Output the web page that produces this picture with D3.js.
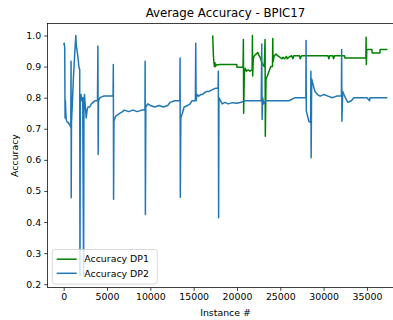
<!DOCTYPE html>
<html><head><meta charset="utf-8">
<script src="https://cdn.jsdelivr.net/npm/d3@7"></script>
<style>body{margin:0;background:#fff;} svg{display:block;} text{font-family:"DejaVu Sans",sans-serif;fill:#000;}</style>
</head><body>
<svg id="chart" width="393" height="320"></svg>
<script>
// ---- data ----
const title = "Average Accuracy - BPIC17";
const xLabel = "Instance #";
const yLabel = "Accuracy";
const seriesNames = ["Accuracy DP1", "Accuracy DP2"];
const seriesColors = ["#008000", "#1f77b4"];
const xTicks = [0, 5000, 10000, 15000, 20000, 25000, 30000, 35000];
const yTicks = [0.2, 0.3, 0.4, 0.5, 0.6, 0.7, 0.8, 0.9, 1.0];

// DP1 (green)
const dp1X = [17200,17240,17280,17330,17400,17460,17520,17600,17680,18000,18600,19200,19970,20000,20400,20700,
  20740,20770,20850,20950,21100,21300,21500,21750,21780,21810,21880,22000,22200,22400,22550,22670,22850,23000,23150,
  23240,23270,23350,23500,23700,23900,24100,24130,24160,24300,24500,24700,24970,25200,25300,25500,25700,25800,26000,
  26300,26450,26550,27200,27300,27450,28000,29000,30500,30600,30700,31050,31150,31250,32400,32450,33500,34880,
  34900,34930,34980,35050,35560,35600,36500,36520,37350];
const dp1Y = [1.0,0.965,0.935,0.915,0.9,0.912,0.9,0.907,0.905,0.907,0.907,0.907,0.907,0.898,0.898,0.898,
  0.987,0.75,0.88,0.895,0.885,0.89,0.885,0.89,1.0,0.87,0.925,0.935,0.94,0.945,0.935,0.93,0.915,0.905,0.9,
  0.987,0.676,0.86,0.87,0.885,0.9,0.9,0.99,0.915,0.935,0.94,0.935,0.93,0.925,0.93,0.925,0.933,0.925,0.93,
  0.935,0.925,0.935,0.935,0.925,0.935,0.935,0.935,0.935,0.925,0.935,0.935,0.925,0.935,0.935,0.928,0.928,0.928,
  0.994,0.907,0.955,0.955,0.955,0.944,0.944,0.955,0.955];

// DP2 (blue)
const dp2X = [0,60,120,160,200,250,300,360,450,545,640,740,820,850,870,900,1000,1100,1250,1400,1450,1550,1650,1750,1850,
  1880,1920,2000,2100,2200,2300,2340,2400,2500,2600,2700,2800,3000,3200,3400,3600,3900,3950,3980,4020,4200,4600,5000,5400,5700,
  5730,5760,5800,6000,6200,6500,6800,7000,7500,8000,8500,9000,9380,9400,9430,9480,9700,10000,10500,11000,11500,12000,12300,
  12800,13400,13430,13460,13520,13700,13900,14300,14600,14800,15200,15240,15280,15400,15600,15800,16000,16200,16500,16800,
  17100,17500,17820,17850,17880,17920,18100,18300,18600,19000,19500,20000,20500,20800,21500,22000,22800,22860,22900,22960,
  23100,23300,23500,24000,25000,26000,26700,27500,27950,27970,28000,28300,28500,28530,28560,28620,28800,29000,29300,29600,
  30000,30500,31000,31500,32050,32080,32110,32200,32500,32800,33200,33500,34000,35000,35300,35350,36000,37000,37350];
const dp2Y = [0.97,0.975,0.96,0.735,0.79,0.75,0.73,0.725,0.72,0.72,0.715,0.71,0.705,0.917,0.478,0.72,0.78,0.85,0.93,1.0,0.97,0.95,0.93,0.9,0.89,
  0.228,0.8,0.81,0.79,0.8,0.228,0.79,0.81,0.77,0.735,0.76,0.77,0.77,0.78,0.785,0.79,0.79,0.966,0.617,0.79,0.8,0.805,0.805,0.805,0.805,
  0.907,0.473,0.725,0.74,0.745,0.75,0.755,0.76,0.755,0.76,0.755,0.76,0.76,0.917,0.424,0.77,0.78,0.775,0.77,0.775,0.77,0.775,0.785,
  0.79,0.79,0.928,0.48,0.735,0.75,0.77,0.775,0.78,0.79,0.79,0.975,0.79,0.81,0.805,0.81,0.81,0.815,0.82,0.82,
  0.825,0.83,0.83,0.885,0.414,0.8,0.79,0.78,0.785,0.78,0.784,0.782,0.785,0.79,0.79,0.79,0.79,0.973,0.73,0.8,
  0.78,0.79,0.79,0.79,0.79,0.79,0.8,0.8,0.8,0.984,0.757,0.724,0.72,0.885,0.607,0.86,0.84,0.82,0.81,0.805,
  0.81,0.805,0.8,0.805,0.805,0.955,0.724,0.82,0.8,0.785,0.79,0.8,0.8,0.8,0.79,0.8,0.8,0.8,0.8];

// ---- layout ----
const svg = d3.select("#chart");
const plotLeft = 47.5, plotTop = 23.5, plotW = 356, plotH = 264;
const fs = 9.4;

const allX = dp1X.concat(dp2X), allY = dp1Y.concat(dp2Y);
const [x0, x1] = d3.extent(allX), [y0, y1] = d3.extent(allY);
const xs = d3.scaleLinear().domain([x0 - 0.05*(x1-x0), x1 + 0.05*(x1-x0)]).range([plotLeft, plotLeft + plotW]);
const ys = d3.scaleLinear().domain([y0 - 0.05*(y1-y0), y1 + 0.05*(y1-y0)]).range([plotTop + plotH, plotTop]);

svg.append("defs").append("clipPath").attr("id","clip")
  .append("rect").attr("x", plotLeft).attr("y", plotTop).attr("width", plotW).attr("height", plotH);

const line = d3.line().x(d => xs(d[0])).y(d => ys(d[1]));
const series = [d3.zip(dp1X, dp1Y), d3.zip(dp2X, dp2Y)];
const g = svg.append("g").attr("clip-path","url(#clip)");
series.forEach((s, i) => {
  g.append("path").datum(s).attr("d", line).attr("fill","none")
    .attr("stroke", seriesColors[i]).attr("stroke-width", 1.5).attr("stroke-linejoin","round");
});

// axes
const xAxis = svg.append("g").attr("transform", `translate(0,${plotTop + plotH})`)
  .call(d3.axisBottom(xs).tickValues(xTicks).tickFormat(d3.format("d")).tickSize(3.3).tickPadding(3).tickSizeOuter(0));
const yAxis = svg.append("g").attr("transform", `translate(${plotLeft},0)`)
  .call(d3.axisLeft(ys).tickValues(yTicks).tickFormat(d3.format(".1f")).tickSize(3.3).tickPadding(3).tickSizeOuter(0));
[xAxis, yAxis].forEach(a => {
  a.select(".domain").remove();
  a.selectAll("line").attr("stroke","#000").attr("stroke-width",0.75);
  a.selectAll("text").attr("font-size", fs).attr("font-family","DejaVu Sans");
});

// spines
svg.append("rect").attr("x", plotLeft).attr("y", plotTop).attr("width", plotW).attr("height", plotH)
  .attr("fill","none").attr("stroke","#000").attr("stroke-width",0.75);

// title and labels
svg.append("text").attr("x", plotLeft + plotW/2).attr("y", 17).attr("text-anchor","middle")
  .attr("font-size", 11.8).text(title);
svg.append("text").attr("x", plotLeft + plotW/2).attr("y", 316).attr("text-anchor","middle")
  .attr("font-size", fs).text(xLabel);
svg.append("text").attr("transform", `translate(18,${plotTop + plotH/2}) rotate(-90)`).attr("text-anchor","middle")
  .attr("font-size", fs).text(yLabel);

// legend
const lg = svg.append("g");
lg.append("rect").attr("x", 52.3).attr("y", 249.5).attr("width", 105).attr("height", 34.5)
  .attr("rx", 2.5).attr("fill","#fff").attr("fill-opacity",0.8).attr("stroke","#cccccc").attr("stroke-width",0.75);
seriesNames.forEach((n, i) => {
  const yy = 259.2 + i*14.1;
  lg.append("line").attr("x1", 56.7).attr("x2", 76.7).attr("y1", yy).attr("y2", yy)
    .attr("stroke", seriesColors[i]).attr("stroke-width", 1.5);
  lg.append("text").attr("x", 84.3).attr("y", yy).attr("dy","0.35em").attr("font-size", fs).text(n);
});
</script>
</body></html>
